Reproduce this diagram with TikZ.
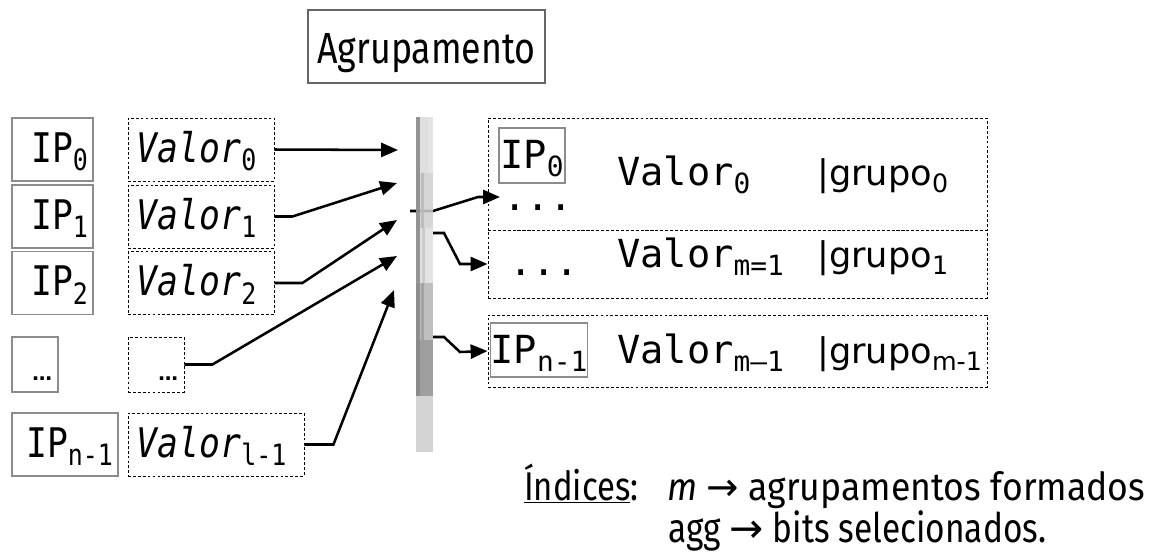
\documentclass[tikz,border=0pt]{standalone}
\usepackage{fontspec}
\usepackage{graphicx}
\usetikzlibrary{arrows.meta}
\setmainfont{DejaVu Sans}
\newfontfamily\valfont[FakeStretch=0.85,ItalicFont={DejaVu Sans Mono Oblique}]{DejaVu Sans Mono}
\newfontfamily\rowfont{DejaVu Sans Mono}
\newfontfamily\narrowfont[FakeStretch=0.82]{Fira Sans}
\newfontfamily\notefont[FakeStretch=0.92]{Fira Sans}
\definecolor{boxGray}{HTML}{8C8C8C}
\definecolor{titleGray}{HTML}{666666}
\newcommand{\sub}[1]{\raisebox{-0.22em}{\scalebox{0.72}{\upshape#1}}}
\newcommand{\grp}[1]{{\rmfamily\fontsize{25}{26}\selectfont|grupo\sub{#1}}}

\begin{document}
\begin{tikzpicture}[x=0.025cm,y=-0.025cm,>={Triangle[length=12pt,width=10pt]},
  ipbox/.style={draw=boxGray,line width=0.9pt,inner xsep=0.125cm,align=right,
    text height=0.625cm,text depth=0cm,minimum height=1.575cm,
    font=\valfont\fontsize{29}{30}\selectfont},
  valbox/.style={draw,dash pattern=on 2pt off 1.5pt,line width=0.6pt,inner xsep=0.225cm,
    align=left,text height=0.625cm,text depth=0cm,minimum height=1.575cm,
    font=\valfont\itshape\fontsize{29}{30}\selectfont},
  dotbox/.style={inner xsep=0.15cm,align=right,minimum height=1.375cm,
    text height=0.775cm,font=\rmfamily\upshape\bfseries\fontsize{14}{14}\selectfont},
  grpbox/.style={draw,dash pattern=on 2pt off 1.5pt,line width=0.6pt,minimum width=12.475cm},
  smallip/.style={draw=boxGray,line width=0.9pt,inner sep=0pt,text depth=0cm,
    font=\rowfont\fontsize{27.5}{28}\selectfont},
  rowtxt/.style={anchor=base west,inner sep=0pt,font=\rowfont\fontsize{27.5}{28}\selectfont},
  note/.style={anchor=base west,inner sep=0pt,font=\notefont\fontsize{27.5}{28}\selectfont},
  link/.style={line width=1.8pt}]
\useasboundingbox (0,0) rectangle (1152,554);

\node[draw=titleGray,line width=1.4pt,minimum width=5.925cm,minimum height=1.825cm,
  text height=0.825cm,text depth=0cm,font=\narrowfont\fontsize{31}{32}\selectfont]
  (title) at (426.5,46.5) {Agrupamento};

\foreach \i/\y in {0/149.5,1/216.5,2/283}{
  \node[ipbox,text width=1.775cm] (ip\i) at (52.5,\y) {IP\sub{\i}};
  \node[valbox,text width=3.2cm] (v\i) at (201,\y) {Valor\sub{\i}};
}
\node[ipbox,dotbox,text width=0.85cm] (ipd) at (35,364.5) {…};
\node[valbox,dotbox,text width=1.1cm] (vd) at (156,364.5) {…};
\node[ipbox,text width=2.4cm] (ipn) at (65,444.5) {IP\sub{n-1}};
\node[valbox,text width=3.95cm] (vl) at (216,444.5) {Valor\sub{l-1}};

\coordinate (in0) at (398,150);
\coordinate (in1) at (397,183);
\coordinate (in2) at (397,220);
\coordinate (in3) at (397,256);
\coordinate (in4) at (394,290);
\draw[link,->] (v0.east) -- (in0);
\draw[link,->] (v1.east) -- ++(18,0) -- (in1);
\draw[link,->] (v2.east) -- ++(28,0) -- (in2);
\draw[link,->] (vd.east) -- ++(28,0) -- (in3);
\draw[link,->] (vl.east) -- ++(29,0) -- (in4);

\node[grpbox,minimum height=2.8cm] (g0) at (737.5,174) {};
\node[grpbox,minimum height=1.7cm] (g1) at (737.5,264) {};
\node[grpbox,minimum height=1.8cm] (g2) at (737.5,351) {};

\node[smallip,minimum width=1.65cm,minimum height=1.375cm,text height=0.625cm]
  (g0ip) at (532,155.5) {IP\sub{0}};
\node[rowtxt] (g0dots) at (503,210) {...};
\node[rowtxt] (row0) at (617,185) {\makebox[5cm][l]{Valor\sub{0}}\grp{0}};
\node[rowtxt] (g1dots) at (509,275) {...};
\node[rowtxt] (row1) at (617,267) {\makebox[5cm][l]{Valor\sub{m=1}}\grp{1}};
\node[smallip,minimum width=2.25cm,minimum height=1.35cm,text height=0.65cm]
  (g2ip) at (539,350) {IP\sub{n-1}};
\node[rowtxt] (row2) at (617,363) {\makebox[5cm][l]{Valor\sub{m–1}}\grp{m-1}};

\coordinate (t0) at (410,211);
\coordinate (t1) at (433,233);
\coordinate (t2) at (433,337);
\coordinate (e0) at (500,197);
\draw[link,->] (t0) -- (433,211) -- (478,197) -- (e0);
\draw[link,->] (t1) -- ++(11,0) -- (460,264) -- (g1.west);
\draw[link,->] (t2) -- ++(11,0) -- (460,352) -- (g2.west);

\begin{scope}[fill opacity=0.85]
\foreach \ya/\yb/\p in {117/173/30,173/228/38,228/283/26,283/340/59,340/396/89,396/452/40}
  \fill[gray!\p] (416,\ya) rectangle (433,\yb);
\fill[gray!95] (416,117) rectangle (419.5,396);
\fill[gray!55] (421,173) rectangle (424,228);
\fill[gray!45] (422,228) rectangle (424.5,283);
\fill[gray!75] (421,283) rectangle (424,396);
\fill[gray!20] (428,117) rectangle (433,173);
\end{scope}

\node[note,font=\narrowfont\fontsize{28.5}{29}\selectfont] (idx) at (524,500) {\underline{Índices}:};
\node[note] (note1) at (667,500) {\textit{m} {\rmfamily→} agrupamentos formados};
\node[note,font=\narrowfont\fontsize{29}{30}\selectfont] (note2) at (668,542) {agg {\rmfamily→} bits selecionados.};
\end{tikzpicture}
\end{document}
